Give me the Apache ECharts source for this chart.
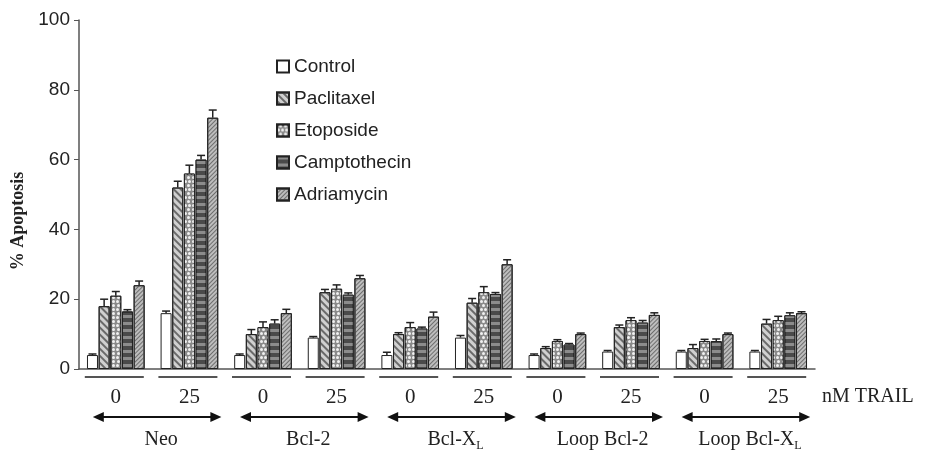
<!DOCTYPE html>
<html><head><meta charset="utf-8">
<script src="https://cdn.jsdelivr.net/npm/echarts@6/dist/echarts.min.js"></script>
<style>html,body{margin:0;padding:0;background:#fff}#c{width:929px;height:452px}</style>
</head><body><div id="c"></div>
<script>
const categories = ['0','25','0','25','0','25','0','25','0','25'];
const groupNames = ['Neo','Bcl-2','Bcl-XL','Loop Bcl-2','Loop Bcl-XL'];
const seriesNames = ['Control','Paclitaxel','Etoposide','Camptothecin','Adriamycin'];
const control      = [4, 16, 4, 9, 4, 9, 4, 5, 5, 5];
const paclitaxel   = [18, 52, 10, 22, 10, 19, 6, 12, 6, 13];
const etoposide    = [21, 56, 12, 23, 12, 22, 8, 14, 8, 14];
const camptothecin = [16.5, 60, 13, 21.3, 11.6, 21.5, 7, 13.3, 8, 15.4];
const adriamycin   = [24, 72, 16, 26, 15, 30, 10, 15.5, 10, 16];
const errControl      = [0.3, 0.6, 0.3, 0.3, 0.8, 0.6, 0.3, 0.3, 0.3, 0.3];
const errPaclitaxel   = [2, 1.8, 1.3, 0.8, 0.4, 1.2, 0.4, 0.6, 1, 1.2];
const errEtoposide    = [1.2, 2.4, 1.5, 1.1, 1.3, 1.6, 0.4, 0.7, 0.5, 1.1];
const errCamptothecin = [0.5, 1.2, 1.1, 0.5, 0.4, 0.4, 0.3, 0.6, 0.6, 0.7];
const errAdriamycin   = [1.2, 2.2, 1.1, 0.8, 1.3, 1.3, 0.3, 0.6, 0.3, 0.4];
const yTicks = [0, 20, 40, 60, 80, 100];

const values = [control, paclitaxel, etoposide, camptothecin, adriamycin];
const errs = [errControl, errPaclitaxel, errEtoposide, errCamptothecin, errAdriamycin];

const SANS = '"Liberation Sans", Arial, sans-serif';
const SERIF = '"Liberation Serif", "Times New Roman", serif';
const BW = 11, GAPFRAC = 0.06, PITCH = BW * (1 + GAPFRAC);

const styles = [
  {color:'#ffffff'},
  {color:'#d0d0d0', decal:{symbol:'rect', color:'#6a6a6a', dashArrayX:[1,0], dashArrayY:[1.5,2.5], rotation:Math.PI/4, symbolSize:1}},
  {color:'#8a8a8a', decal:{symbol:'circle', color:'#f0f0f0', dashArrayX:[[3,1],[0,2,3,0]], dashArrayY:[3,1], rotation:0, symbolSize:1}},
  {color:'#4a4a4a', decal:{symbol:'rect', color:'#8c8c8c', dashArrayX:[1,0], dashArrayY:[3,4], rotation:0, symbolSize:1}},
  {color:'#bdbdbd', decal:{symbol:'rect', color:'#6e6e6e', dashArrayX:[1,0], dashArrayY:[1,2], rotation:-Math.PI/4, symbolSize:1}}
];

const series = seriesNames.map((n, i) => ({
  name: n, type: 'bar', data: values[i], barWidth: BW, barGap: (GAPFRAC*100)+'%',
  itemStyle: Object.assign({borderColor:'#222', borderWidth:1}, styles[i]),
  emphasis:{disabled:true}, z: 2
}));

const errData = [];
values.forEach((arr, s) => arr.forEach((v, c) => errData.push([c, s, v, errs[s][c]])));
series.push({
  type:'custom', name:'err', data: errData, encode:{x:0, y:2}, z: 5, silent:true,
  renderItem: function(params, api){
    const c = api.value(0), s = api.value(1), v = api.value(2), e = api.value(3);
    const p0 = api.coord([c, v]);
    const p1 = api.coord([c, v + e]);
    const x = p0[0] + (s - 2) * PITCH;
    return {type:'group', children:[
      {type:'line', shape:{x1:x, y1:p0[1], x2:x, y2:p1[1]}, style:{stroke:'#222', lineWidth:1.5}},
      {type:'line', shape:{x1:x-4, y1:p1[1], x2:x+4, y2:p1[1]}, style:{stroke:'#222', lineWidth:1.5}}
    ]};
  }
});

const chart = echarts.init(document.getElementById('c'), null, {renderer:'canvas'});
chart.setOption({
  animation:false,
  backgroundColor:'#fff',
  grid:{left:79, right:114, top:20, bottom:83, containLabel:false},
  legend:{
    data: seriesNames, orient:'vertical', left:276, top:57, padding:0,
    itemWidth:12, itemHeight:12, itemGap:13, icon:'rect',
    textStyle:{fontFamily:SANS, fontSize:19, color:'#222', lineHeight:19},
    selectedMode:false
  },
  xAxis:{
    type:'category', data:categories,
    axisLine:{lineStyle:{color:'#555', width:1.5}},
    axisTick:{show:false},
    axisLabel:{fontFamily:SERIF, fontSize:21, color:'#222', margin:18, interval:0}
  },
  yAxis:{
    type:'value', min:0, max:100, interval:20,
    splitLine:{show:false},
    axisLine:{show:true, lineStyle:{color:'#555', width:1.5}},
    axisTick:{show:true, length:5, lineStyle:{color:'#555'}},
    axisLabel:{fontFamily:SANS, fontSize:19, color:'#222', margin:9,
      formatter: v => yTicks.indexOf(v) >= 0 ? String(v) : ''}
  },
  series: series
});

// annotation graphics positioned through the category scale
const cx = categories.map((_, i) => chart.convertToPixel({xAxisIndex:0}, i));
const baseY = chart.convertToPixel({yAxisIndex:0}, 0);
const g = [];
cx.forEach(x => g.push({type:'line', shape:{x1:x-31, y1:baseY+8, x2:x+28, y2:baseY+8}, style:{stroke:'#555', lineWidth:2}}));
const arrowY = baseY + 48;
groupNames.forEach((name, k) => {
  const L = cx[2*k] - 23, R = cx[2*k+1] + 32;
  g.push({type:'line', shape:{x1:L+8, y1:arrowY, x2:R-8, y2:arrowY}, style:{stroke:'#111', lineWidth:2}});
  g.push({type:'polygon', shape:{points:[[L,arrowY],[L+11,arrowY-5],[L+11,arrowY+5]]}, style:{fill:'#111'}});
  g.push({type:'polygon', shape:{points:[[R,arrowY],[R-11,arrowY-5],[R-11,arrowY+5]]}, style:{fill:'#111'}});
  const mid = (L + R) / 2 + 4;
  let text, rich = {a:{fontFamily:SERIF, fontSize:20, fill:'#222'}, s:{fontFamily:SERIF, fontSize:12, fill:'#222', padding:[12,0,0,0]}};
  if (name.endsWith('XL')) text = '{a|' + name.slice(0, -1) + '}{s|L}';
  else text = '{a|' + name + '}';
  g.push({type:'text', x:mid, y:baseY+71, style:{text:text, rich:rich, align:'center', verticalAlign:'middle'}});
});
g.push({type:'text', x:822, y:baseY+28, style:{text:'nM TRAIL', fontFamily:SERIF, fontSize:20, fill:'#222', align:'left', verticalAlign:'middle'}});
g.push({type:'text', x:18, y:221, rotation:Math.PI/2, style:{text:'% Apoptosis', fontFamily:SERIF, fontWeight:'bold', fontSize:18, fill:'#222', align:'center', verticalAlign:'middle'}});
chart.setOption({graphic:g});
</script>
</body></html>
